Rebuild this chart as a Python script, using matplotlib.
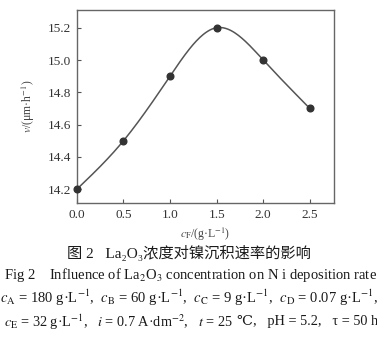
import numpy as np
import matplotlib.pyplot as plt

plt.rcParams['font.family'] = ['Liberation Serif', 'DejaVu Serif', 'Noto Sans CJK SC']
plt.rcParams['mathtext.fontset'] = 'stix'

# La2O3 concentration (g/L) and Ni deposition rate (um/h)
conc = [0.0, 0.5, 1.0, 1.5, 2.0, 2.5]
rate = [14.2, 14.5, 14.9, 15.2, 15.0, 14.7]
xticks = [0.0, 0.5, 1.0, 1.5, 2.0, 2.5]
yticks = [14.2, 14.4, 14.6, 14.8, 15.0, 15.2]


def natural_spline(x, y, xs):
    # plain natural cubic spline, only used to draw the smooth trend line
    x = np.asarray(x, float)
    y = np.asarray(y, float)
    n = len(x)
    h = np.diff(x)
    A = np.zeros((n, n))
    b = np.zeros(n)
    A[0, 0] = A[-1, -1] = 1
    for i in range(1, n - 1):
        A[i, i - 1] = h[i - 1]
        A[i, i] = 2 * (h[i - 1] + h[i])
        A[i, i + 1] = h[i]
        b[i] = 3 * ((y[i + 1] - y[i]) / h[i] - (y[i] - y[i - 1]) / h[i - 1])
    c = np.linalg.solve(A, b)
    out = np.empty_like(xs)
    for k, xv in enumerate(xs):
        i = min(max(np.searchsorted(x, xv) - 1, 0), n - 2)
        d = xv - x[i]
        bi = (y[i + 1] - y[i]) / h[i] - h[i] * (2 * c[i] + c[i + 1]) / 3
        di = (c[i + 1] - c[i]) / (3 * h[i])
        out[k] = y[i] + bi * d + c[i] * d ** 2 + di * d ** 3
    return out


fig = plt.figure(figsize=(3.77, 3.43), dpi=100)
ax = fig.add_axes([0.204, 0.408, 0.682, 0.563])

xs = np.linspace(0.03, 2.47, 200)
ax.plot(xs, natural_spline(conc, rate, xs), color='#555555', lw=1.1)
ax.plot(conc, rate, 'o', color='#333333', ms=4.8, clip_on=False, zorder=3)

ax.set_xlim(0.0, 2.76)
ax.set_ylim(14.114, 15.31)
ax.set_xticks(xticks)
ax.set_xticklabels([f'{t:.1f}' for t in xticks])
ax.set_yticks(yticks)
ax.set_yticklabels([f'{t:.1f}' for t in yticks])
ax.tick_params(direction='in', length=3, width=0.8, colors='#555555',
               labelcolor='#333333', labelsize=9.5, pad=4)
for s in ax.spines.values():
    s.set_color('#666666')
    s.set_linewidth(1.0)

ax.set_xlabel(r'$c_{\rm F}$/(g·L$^{-1}$)', fontsize=8.5, color='#444444', labelpad=4)
ax.set_ylabel(r'$v$/(μm·h$^{-1}$)', fontsize=8.5, color='#444444', labelpad=8)

tc = '#1a1a1a'
fig.text(0.5, 1 - 253 / 343, '图 2   La₂O₃浓度对镍沉积速率的影响', ha='center', va='center',
         fontsize=11, color=tc)
fig.text(0.505, 1 - 275 / 343,
         r'Fig 2    Influence of La$_2$O$_3$ concentration on N i deposition rate',
         ha='center', va='center', fontsize=10.5, color=tc)
fig.text(0.5, 1 - 298 / 343,
         r'$c_{\rm A}$ = 180 g·L$^{-1}$,  $c_{\rm B}$ = 60 g·L$^{-1}$,  '
         r'$c_{\rm C}$ = 9 g·L$^{-1}$,  $c_{\rm D}$ = 0.07 g·L$^{-1}$,',
         ha='center', va='center', fontsize=10.5, color=tc)

# last condition line: the degree sign part is plain text so font fallback works
y4 = 1 - 320 / 343
part1 = fig.text(4 / 377, y4,
                 r'$c_{\rm E}$ = 32 g·L$^{-1}$,   $i$ = 0.7 A·dm$^{-2}$,   $t$ = 25',
                 ha='left', va='center_baseline', fontsize=10.3, color=tc)
fig.canvas.draw()
bb = part1.get_window_extent().transformed(fig.transFigure.inverted())
fig.text(bb.x1 + 4 / 377, y4, '℃,   pH = 5.2,   τ = 50 h',
         ha='left', va='center_baseline', fontsize=10.3, color=tc)

fig.savefig('out.png', dpi=100)
